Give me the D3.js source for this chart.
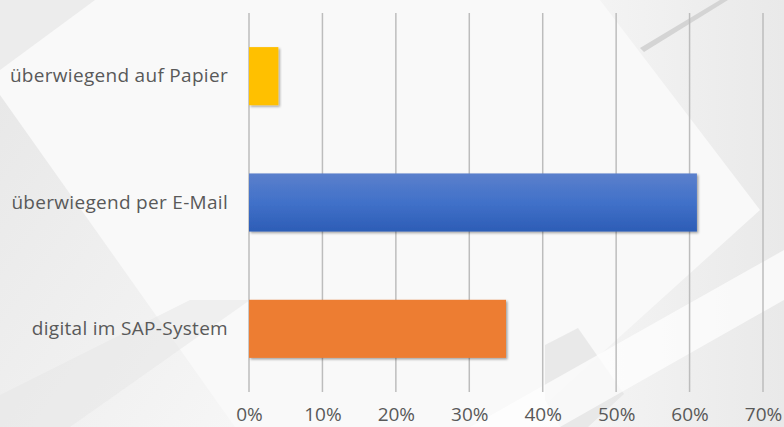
<!DOCTYPE html>
<html>
<head>
<meta charset="utf-8">
<script src="https://cdn.jsdelivr.net/npm/d3@7"></script>
<style>
  html, body { margin: 0; padding: 0; background: #fff; }
  svg { display: block; }
</style>
</head>
<body>
<svg id="chart" width="784" height="427"></svg>
<script>
const categories = ["überwiegend auf Papier", "überwiegend per E-Mail", "digital im SAP-System"];
const values = [0.04, 0.61, 0.35];
const barColors = ["#FFC000", "url(#blueGrad)", "#ED7D31"];
const tickValues = [0, 0.1, 0.2, 0.3, 0.4, 0.5, 0.6, 0.7];

const W = 784, H = 427;
const svg = d3.select("#chart");
const defs = svg.append("defs");

const bg = defs.append("linearGradient").attr("id", "blueGrad").attr("x1", 0).attr("y1", 0).attr("x2", 0).attr("y2", 1);
bg.append("stop").attr("offset", "0%").attr("stop-color", "#5B80CC");
bg.append("stop").attr("offset", "50%").attr("stop-color", "#4171C9");
bg.append("stop").attr("offset", "100%").attr("stop-color", "#2D5DB6");

const gl = defs.append("linearGradient").attr("id", "grayL").attr("x1", 0).attr("y1", 0).attr("x2", 1).attr("y2", 1);
gl.append("stop").attr("offset", "0%").attr("stop-color", "#e8e8e8");
gl.append("stop").attr("offset", "100%").attr("stop-color", "#f6f6f6");
const gr = defs.append("linearGradient").attr("id", "grayR").attr("x1", 0).attr("y1", 0).attr("x2", 1).attr("y2", 0);
gr.append("stop").attr("offset", "0%").attr("stop-color", "#f8f8f8");
gr.append("stop").attr("offset", "100%").attr("stop-color", "#e9e9e9");

const shadow = defs.append("filter").attr("id", "shadow").attr("x", "-5%").attr("y", "-10%").attr("width", "115%").attr("height", "130%");
shadow.append("feDropShadow").attr("dx", 1.5).attr("dy", 1.5).attr("stdDeviation", 1.2).attr("flood-color", "#000").attr("flood-opacity", 0.35);

// background decoration
const bgG = svg.append("g");
bgG.append("rect").attr("width", W).attr("height", H).attr("fill", "#f9f9f9");
const polys = [
  {p: [[0,0],[95,0],[0,70]], f: "#ececec"},
  {p: [[0,95],[235,427],[0,427]], f: "url(#grayL)"},
  {p: [[0,395],[190,300],[250,300],[70,427],[0,427]], f: "#e6e6e6", o: 0.5},
  {p: [[600,0],[784,0],[784,427],[520,427],[760,210]], f: "url(#grayR)"},
  {p: [[545,345],[578,328],[624,394],[588,427],[560,427],[545,400]], f: "#e2e2e2", o: 0.7},
  {p: [[640,48],[720,0],[728,0],[644,52]], f: "#d4d4d4"},
  {p: [[784,250],[784,300],[560,427],[470,427]], f: "#ffffff", o: 0.7}
];
polys.forEach(d => {
  bgG.append("polygon").attr("points", d.p.map(q => q.join(",")).join(" "))
    .attr("fill", d.f).attr("opacity", d.o == null ? 1 : d.o);
});

const x = d3.scaleLinear().domain([0, 0.7]).range([249, 763]);
const y = d3.scaleBand().domain(categories).range([13, 392]).paddingInner(0.54).paddingOuter(0.27);

// gridlines
svg.append("g").selectAll("line").data(tickValues).join("line")
  .attr("x1", d => x(d)).attr("x2", d => x(d))
  .attr("y1", 13).attr("y2", 392)
  .attr("stroke", "#bdbdbd").attr("stroke-width", 1.5);

// bars
svg.append("g").selectAll("rect").data(categories).join("rect")
  .attr("x", x(0))
  .attr("y", d => y(d))
  .attr("width", (d, i) => x(values[i]) - x(0))
  .attr("height", y.bandwidth())
  .attr("fill", (d, i) => barColors[i])
  .attr("filter", "url(#shadow)");

// x axis labels
const xAxis = d3.axisBottom(x).tickValues(tickValues).tickFormat(d3.format(".0%")).tickSize(0).tickPadding(0);
const xg = svg.append("g").attr("transform", "translate(0,407)").call(xAxis);
xg.select(".domain").remove();
xg.selectAll("text").attr("font-family", "'Open Sans', sans-serif").attr("font-size", 19).attr("fill", "#595959");

// y axis labels
const yAxis = d3.axisLeft(y).tickSize(0).tickPadding(21);
const yg = svg.append("g").attr("transform", `translate(${x(0)},0)`).call(yAxis);
yg.select(".domain").remove();
yg.selectAll("text").attr("font-family", "'Open Sans', sans-serif").attr("font-size", 19)
  .attr("letter-spacing", 0.3).attr("fill", "#595959");
</script>
</body>
</html>
